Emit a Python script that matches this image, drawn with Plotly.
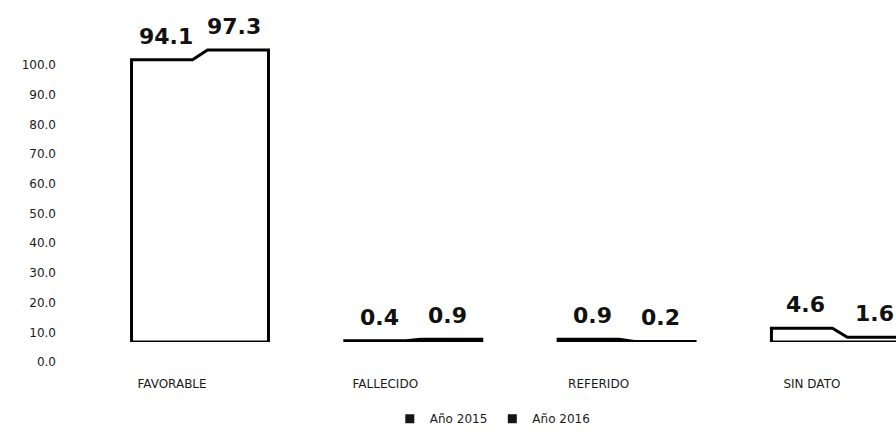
import plotly.graph_objects as go

# Data
categories = ["FAVORABLE", "FALLECIDO", "REFERIDO", "SIN DATO"]
series_names = ["Año 2015", "Año 2016"]
values_2015 = [94.1, 0.4, 0.9, 4.6]
values_2016 = [97.3, 0.9, 0.2, 1.6]
y_ticks = [0, 10, 20, 30, 40, 50, 60, 70, 80, 90, 100]

# Geometry of the grouped bars (in category units)
GROUP = 0.642          # total width of a pair of bars
STEP = 0.035           # half-width of the slanted joint between the two tops
positions = list(range(len(categories)))

LABEL_FONT = dict(family="DejaVu Sans", size=12, color="#1a1a1a")
VALUE_FONT = dict(family="DejaVu Sans", size=22, color="#111111", weight="bold")

fig = go.Figure()

# White bars for each year, side by side
for name, vals in zip(series_names, [values_2015, values_2016]):
    fig.add_trace(go.Bar(
        x=positions, y=vals, name=name,
        marker=dict(color="white", line=dict(width=0)),
        showlegend=False, hoverinfo="skip",
    ))

# Single heavy outline around each pair of bars
xs, ys = [], []
for i, (a, b) in enumerate(zip(values_2015, values_2016)):
    left, right = i - GROUP / 2, i + GROUP / 2
    xs += [left, left, i - STEP, i + STEP, right, right, left, None]
    ys += [0, a, a, b, b, 0, 0, None]
fig.add_trace(go.Scatter(
    x=xs, y=ys, mode="lines",
    line=dict(color="black", width=3),
    showlegend=False, hoverinfo="skip",
))

# Legend swatches
for name in series_names:
    fig.add_trace(go.Scatter(
        x=[None], y=[None], mode="markers", name=name,
        marker=dict(symbol="square", size=9, color="#151515"),
    ))

# Holder trace for the labelled value axis
fig.add_trace(go.Scatter(x=[None], y=[None], xaxis="x", yaxis="y2",
                         showlegend=False, hoverinfo="skip"))

# Value labels above each bar
annotations = []
for i, (a, b) in enumerate(zip(values_2015, values_2016)):
    for xv, yv in ((i - GROUP / 4, a), (i + GROUP / 4, b)):
        annotations.append(dict(
            x=xv, y=yv, xref="x", yref="y", text=f"{yv:.1f}",
            showarrow=False, yanchor="bottom", yshift=9,
            font=VALUE_FONT,
        ))

fig.update_layout(
    width=896, height=434,
    margin=dict(l=0, r=0, t=0, b=0, autoexpand=False),
    paper_bgcolor="white", plot_bgcolor="rgba(0,0,0,0)",
    barmode="group", bargap=1 - GROUP, bargroupgap=0,
    hovermode=False,
    xaxis=dict(
        domain=[0, 1], range=[-0.9377, 3.263],
        tickvals=positions, ticktext=categories,
        showgrid=False, zeroline=False, showline=False, ticks="",
        ticklabelshift=-28, ticklabelstandoff=33,
        tickfont=LABEL_FONT, anchor="y",
    ),
    yaxis=dict(
        domain=[0.2120, 0.9032], range=[0, 100],
        visible=False,
    ),
    yaxis2=dict(
        domain=[0.1659, 0.8502], range=[0, 100],
        tickvals=y_ticks, ticktext=[f"{t:.1f}" for t in y_ticks],
        anchor="free", position=0.0625,
        showgrid=False, zeroline=False, showline=False, ticks="",
        tickfont=LABEL_FONT,
    ),
    legend=dict(
        orientation="h", x=0.55, xanchor="center", y=0.002, yanchor="bottom",
        font=LABEL_FONT, bgcolor="rgba(0,0,0,0)",
    ),
    annotations=annotations,
)

fig.write_html("out.html")
